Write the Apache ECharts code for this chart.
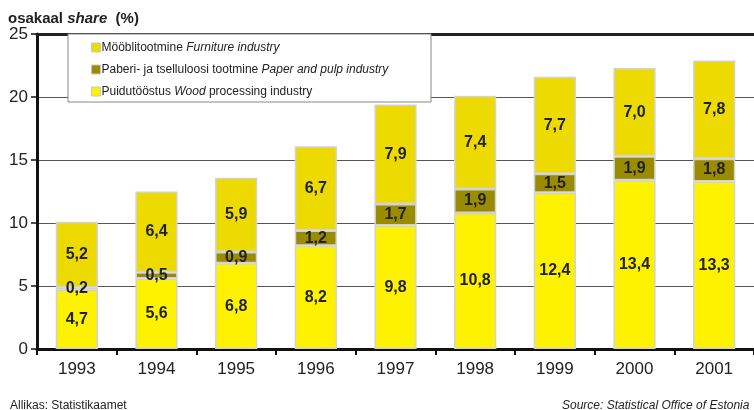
<!DOCTYPE html>
<html><head><meta charset="utf-8">
<script src="https://cdn.jsdelivr.net/npm/echarts@6/dist/echarts.min.js"></script>
<style>html,body{margin:0;padding:0;background:#fff}#c{width:754px;height:410px}</style>
</head><body><div id="c"></div>
<script>
const years = ['1993','1994','1995','1996','1997','1998','1999','2000','2001'];
const wood = [4.7,5.6,6.8,8.2,9.8,10.8,12.4,13.4,13.3];
const paper = [0.2,0.5,0.9,1.2,1.7,1.9,1.5,1.9,1.8];
const furniture = [5.2,6.4,5.9,6.7,7.9,7.4,7.7,7.0,7.8];
const yTicks = [0,5,10,15,20,25];

const FONT = 'Liberation Sans, Arial, sans-serif';
const chart = echarts.init(document.getElementById('c'), null, {renderer:'canvas'});
const lbl = {show:true, position:'inside', color:'#222', fontWeight:'bold', fontSize:16, fontFamily:FONT,
  formatter: p => p.value.toFixed(1).replace('.', ',')};
const border = {borderColor:'#d2d2d2', borderWidth:1.5};
function s(name, data, color){
  return {name, type:'bar', stack:'a', data, barWidth:'53%', itemStyle:Object.assign({color}, border), label:lbl, emphasis:{disabled:true}};
}
chart.setOption({
  animation:false,
  textStyle:{fontFamily:FONT},
  title:{left:3, top:6, text:'{b|osakaal }{i|share}{b|  (%)}',
    textStyle:{rich:{b:{fontSize:15, fontWeight:'bold', color:'#222', fontFamily:FONT},
                     i:{fontSize:15, fontWeight:'bold', fontStyle:'italic', color:'#222', fontFamily:FONT}}}},
  grid:{left:37, top:34, width:725, bottom:61},
  legend:{orient:'vertical', left:86, top:36, zlevel:2, itemWidth:9, itemHeight:9, itemGap:9, icon:'rect',
    data:['Furniture','Paper','Wood'],
    itemStyle:{borderColor:'#c8c8c8', borderWidth:1},
    formatter: n => ({Furniture:'{r|Mööblitootmine }{i|Furniture industry}',
                      Paper:'{r|Paberi- ja tselluloosi tootmine }{i|Paper and pulp industry}',
                      Wood:'{r|Puidutööstus }{i|Wood}{r| processing industry}'})[n],
    textStyle:{padding:[0,0,0,-4], lineHeight:13, rich:{r:{fontSize:12, color:'#222', fontFamily:FONT}, i:{fontSize:12, color:'#222', fontStyle:'italic', fontFamily:FONT}}}},
  graphic:[
    {type:'rect', zlevel:1, shape:{x:68, y:34, width:363, height:68}, style:{fill:'#fff', stroke:'#888', lineWidth:1}},
    {type:'text', left:10, top:400, style:{text:'Allikas: Statistikaamet', fontSize:12, fill:'#222', fontFamily:FONT}},
    {type:'text', left:562, top:400, style:{text:'Source: Statistical Office of Estonia', fontSize:12, fontStyle:'italic', fill:'#222', fontFamily:FONT}}
  ],
  xAxis:[{type:'category', data:years, position:'bottom',
    axisLine:{lineStyle:{color:'#111', width:3}},
    axisTick:{show:true, length:6, alignWithLabel:false, lineStyle:{color:'#111', width:2}},
    axisLabel:{fontSize:17, color:'#222', margin:12, fontFamily:FONT}},
    {type:'category', data:years, position:'top', axisLine:{lineStyle:{color:'#222', width:3}},
     axisTick:{show:false}, axisLabel:{show:false}}],
  yAxis:{type:'value', min:0, max:25, interval:5,
    axisLine:{show:true, lineStyle:{color:'#111', width:3}},
    axisTick:{show:true, length:6, lineStyle:{color:'#111', width:1.5}},
    axisLabel:{fontSize:17, color:'#222', margin:9, fontFamily:FONT, formatter: v => yTicks.includes(v) ? String(v) : ''},
    splitLine:{show:true, lineStyle:{color:'#555', width:1.2}}},
  series:[ s('Wood', wood, '#FFF200'), s('Paper', paper, '#9A8B00'), s('Furniture', furniture, '#EDDA00') ]
});
</script></body></html>
